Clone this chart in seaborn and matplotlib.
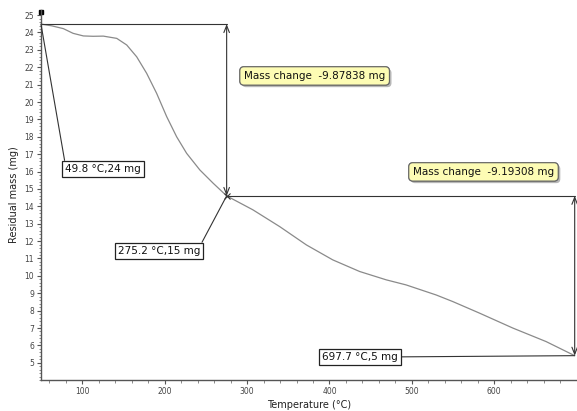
import matplotlib
matplotlib.use("Agg")
import matplotlib.pyplot as plt
import matplotlib.patheffects as pe
from matplotlib.ticker import MultipleLocator, FixedLocator
import seaborn as sns
import pandas as pd

# TGA curve
temp = [49.8, 52.8, 63, 77, 88.8, 101.3, 113, 125.5, 141.8, 153.9, 166, 178.1, 190.2,
        202.4, 214.5, 226.6, 242.7, 258.8, 275.2, 307, 339.7, 372, 404, 436.7, 469,
        493, 529.6, 549.8, 582, 622.5, 663, 697.7]
mass = [24.48, 24.46, 24.38, 24.22, 23.95, 23.8, 23.78, 23.79, 23.66, 23.28, 22.6, 21.65,
        20.5, 19.16, 18.0, 17.05, 16.09, 15.33, 14.60, 13.8, 12.83, 11.78, 10.92, 10.25,
        9.77, 9.48, 8.9, 8.52, 7.86, 7.0, 6.22, 5.41]

# annotated points and mass changes
point_temp = [49.8, 275.2, 697.7]
point_mass = [24.48, 14.60, 5.41]
mass_change = [-9.87838, -9.19308]

x_ticks = [100, 200, 300, 400, 500, 600]
y_ticks = list(range(5, 26))

df = pd.DataFrame({"temp": temp, "mass": mass})

sns.set_style("ticks")
plt.rcParams["font.family"] = ["DejaVu Sans"]

fig = plt.figure(figsize=(5.77, 4.11), dpi=100)
ax = fig.add_axes([0.071, 0.075, 0.928, 0.901])

sns.lineplot(data=df, x="temp", y="mass", ax=ax, color="#8a8a8a", linewidth=0.9)

ax.set_xlim(49.8, 699.8)
ax.set_ylim(4.0, 25.3)
ax.xaxis.set_major_locator(FixedLocator(x_ticks))
ax.xaxis.set_minor_locator(MultipleLocator(20))
ax.yaxis.set_major_locator(FixedLocator(y_ticks))
ax.yaxis.set_minor_locator(MultipleLocator(0.2))
ax.tick_params(axis="both", which="major", labelsize=5.5, labelcolor="#444444",
               color="#555555", length=3, width=0.8, pad=2)
ax.tick_params(axis="both", which="minor", color="#777777", length=1.8, width=0.6)
for s in ["top", "right"]:
    ax.spines[s].set_visible(False)
for s in ["left", "bottom"]:
    ax.spines[s].set_color("#555555")
    ax.spines[s].set_linewidth(1.0)

ax.set_xlabel("Temperature (°C)", fontsize=7, color="#222222", labelpad=3)
ax.set_ylabel("Residual mass (mg)", fontsize=7, color="#222222", labelpad=4)

line_kw = dict(color="#333333", linewidth=0.8)
arrow_kw = dict(arrowstyle="<->,head_length=0.5,head_width=0.2", color="#333333",
                lw=0.8, shrinkA=0, shrinkB=0)

# step lines for each mass change
for i in range(2):
    x0, x1 = point_temp[i], point_temp[i + 1]
    y0, y1 = point_mass[i], point_mass[i + 1]
    ax.plot([x0, x1], [y0, y0], **line_kw, clip_on=False)
    ax.annotate("", xy=(x1, y1), xytext=(x1, y0), arrowprops=arrow_kw,
                annotation_clip=False)

# small marker at the start
ax.plot([point_temp[0]], [25.15], marker="s", markersize=2.5, color="black",
        clip_on=False)
ax.plot([point_temp[1]], [point_mass[1]], marker="x", markersize=5, color="#333333",
        markeredgewidth=0.8)

# point labels
label_pos = [(125.2, 16.15), (193, 11.44), (436.7, 5.34)]
label_rel = [(0, 1), (1, 1), (1, 0.5)]
for t, m, pos, rel in zip(point_temp, point_mass, label_pos, label_rel):
    ax.annotate(f"{t} °C,{round(m)} mg", xy=(t, m), xytext=pos,
                ha="center", va="center", fontsize=7.5, color="#111111",
                bbox=dict(boxstyle="square,pad=0.3", fc="white", ec="#222222", lw=0.9),
                arrowprops=dict(arrowstyle="-", color="#333333", lw=0.8,
                                shrinkA=0, shrinkB=0, relpos=rel),
                annotation_clip=False)

# mass change callouts
change_pos = [(382, 21.5), (587, 15.98)]
for dm, pos in zip(mass_change, change_pos):
    txt = ax.text(pos[0], pos[1], f"Mass change  {dm:.5f} mg", ha="center", va="center",
                  fontsize=7.5, color="#111111",
                  bbox=dict(boxstyle="round,pad=0.4,rounding_size=0.4", fc="#fdfcb4",
                            ec="#666666", lw=0.8))
    txt.get_bbox_patch().set_path_effects([
        pe.withSimplePatchShadow(offset=(1.5, -1.5), shadow_rgbFace="#999999", alpha=0.7),
        pe.Normal()])

fig.savefig("out.png", dpi=100)
